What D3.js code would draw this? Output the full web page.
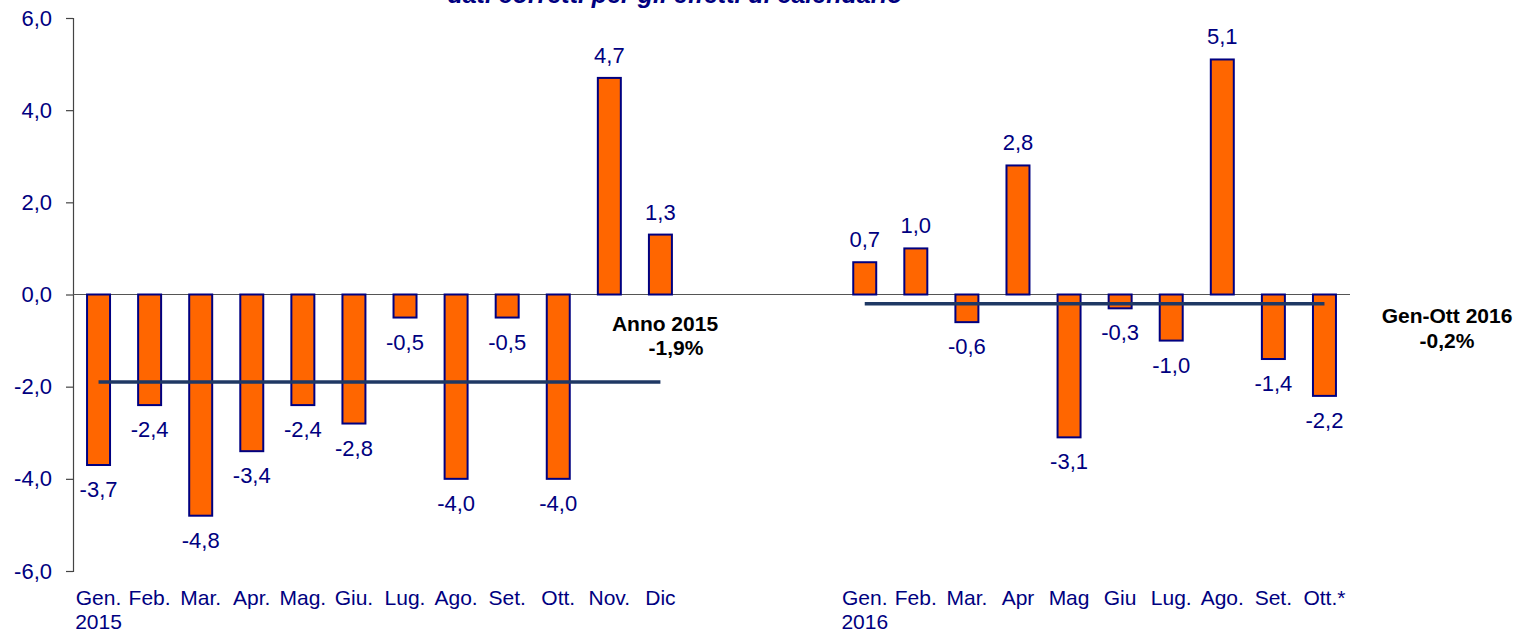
<!DOCTYPE html>
<html>
<head>
<meta charset="utf-8">
<script src="https://cdn.jsdelivr.net/npm/d3@7"></script>
<style>
  body { margin: 0; background: #fff; }
  text { font-family: "Liberation Sans", Arial, sans-serif; }
</style>
</head>
<body>
<svg id="chart" width="1531" height="633"></svg>
<script>
// months 2015, gap, months 2016
var months2015 = ["Gen.", "Feb.", "Mar.", "Apr.", "Mag.", "Giu.", "Lug.", "Ago.", "Set.", "Ott.", "Nov.", "Dic"];
var months2016 = ["Gen.", "Feb.", "Mar.", "Apr", "Mag", "Giu", "Lug.", "Ago.", "Set.", "Ott.*"];
var values2015 = [-3.7, -2.4, -4.8, -3.4, -2.4, -2.8, -0.5, -4.0, -0.5, -4.0, 4.7, 1.3];
var values2016 = [0.7, 1.0, -0.6, 2.8, -3.1, -0.3, -1.0, 5.1, -1.4, -2.2];
var gapSlots = ["g1", "g2", "g3"];
var avg2015 = -1.9;
var avg2016 = -0.2;
var yTicks = [-6, -4, -2, 0, 2, 4, 6];
var title = "dati corretti per gli effetti di calendario";

var navy = "#000080", orange = "#FF6600", avgColor = "#1F3864";

function fmt(v) { return d3.format(".1f")(v).replace(".", ",").replace("−", "-"); }

// build rows
var rows = [];
months2015.forEach((m, i) => rows.push({ key: "a" + i, month: m, year: i == 0 ? "2015" : null, v: values2015[i] }));
var keys = rows.map(d => d.key).concat(gapSlots);
months2016.forEach((m, i) => { rows.push({ key: "b" + i, month: m, year: i == 0 ? "2016" : null, v: values2016[i] }); keys.push("b" + i); });

var svg = d3.select("#chart");
var x = d3.scaleBand().domain(keys).range([73, 1350]).paddingInner(0.55).paddingOuter(0.275);
var y = d3.scaleLinear().domain([-6, 6]).range([571, 18]);

// title (cut at top as in the original)
svg.append("text")
  .attr("x", 675).attr("y", 3)
  .attr("text-anchor", "middle")
  .style("font-size", "25px").style("font-style", "italic").style("font-weight", "bold")
  .attr("fill", navy)
  .text(title);

// y axis
var yAxis = svg.append("g")
  .attr("transform", "translate(73,0)")
  .call(d3.axisLeft(y).tickValues(yTicks).tickSize(7).tickPadding(14).tickFormat(fmt));
yAxis.select(".domain").attr("stroke", "#444").attr("stroke-width", 1.2);
yAxis.selectAll(".tick line").attr("stroke", "#444").attr("stroke-width", 1.2);
yAxis.selectAll(".tick text").attr("fill", navy).style("font-size", "22px")
  .style("font-family", "'Liberation Sans', Arial, sans-serif");

// zero line
svg.append("line")
  .attr("x1", 73).attr("x2", 1350)
  .attr("y1", y(0)).attr("y2", y(0))
  .attr("stroke", "#555").attr("stroke-width", 1.2);

// bars
svg.selectAll(".bar")
  .data(rows).enter()
  .append("rect")
  .attr("class", "bar")
  .attr("x", d => x(d.key))
  .attr("width", x.bandwidth())
  .attr("y", d => y(Math.max(0, d.v)))
  .attr("height", d => Math.abs(y(d.v) - y(0)))
  .attr("fill", orange)
  .attr("stroke", navy)
  .attr("stroke-width", 2);

// average lines
var avgs = [
  { v: avg2015, from: "a0", to: "a" + (months2015.length - 1) },
  { v: avg2016, from: "b0", to: "b" + (months2016.length - 1) }
];
svg.selectAll(".avg")
  .data(avgs).enter()
  .append("line")
  .attr("x1", d => x(d.from) + x.bandwidth() / 2)
  .attr("x2", d => x(d.to) + x.bandwidth() / 2)
  .attr("y1", d => y(d.v)).attr("y2", d => y(d.v))
  .attr("stroke", avgColor).attr("stroke-width", 3.5);

// value labels
svg.selectAll(".vlabel")
  .data(rows).enter()
  .append("text")
  .attr("x", d => x(d.key) + x.bandwidth() / 2)
  .attr("y", d => d.v >= 0 ? y(d.v) - 15 : y(d.v) + 32)
  .attr("text-anchor", "middle")
  .attr("fill", navy)
  .style("font-size", "22px")
  .text(d => fmt(d.v));

// category labels
var cat = svg.selectAll(".cat")
  .data(rows).enter()
  .append("text")
  .attr("text-anchor", "middle")
  .attr("fill", navy)
  .style("font-size", "21px");
cat.append("tspan")
  .attr("x", d => x(d.key) + x.bandwidth() / 2)
  .attr("y", 605)
  .text(d => d.month);
cat.filter(d => d.year).append("tspan")
  .attr("x", d => x(d.key) + x.bandwidth() / 2)
  .attr("y", 629)
  .text(d => d.year);

// annotations
function note(cx, y1, y2, line1, line2, shift) {
  var t = svg.append("text").attr("text-anchor", "middle").attr("fill", "#000")
    .style("font-size", "21px").style("font-weight", "bold");
  t.append("tspan").attr("x", cx).attr("y", y1).text(line1);
  t.append("tspan").attr("x", cx + shift).attr("y", y2).text(line2);
}
note(665, 331, 355, "Anno 2015", fmt(avg2015) + "%", 11);
note(1447, 323, 348, "Gen-Ott 2016", fmt(avg2016) + "%", 0);
</script>
</body>
</html>
